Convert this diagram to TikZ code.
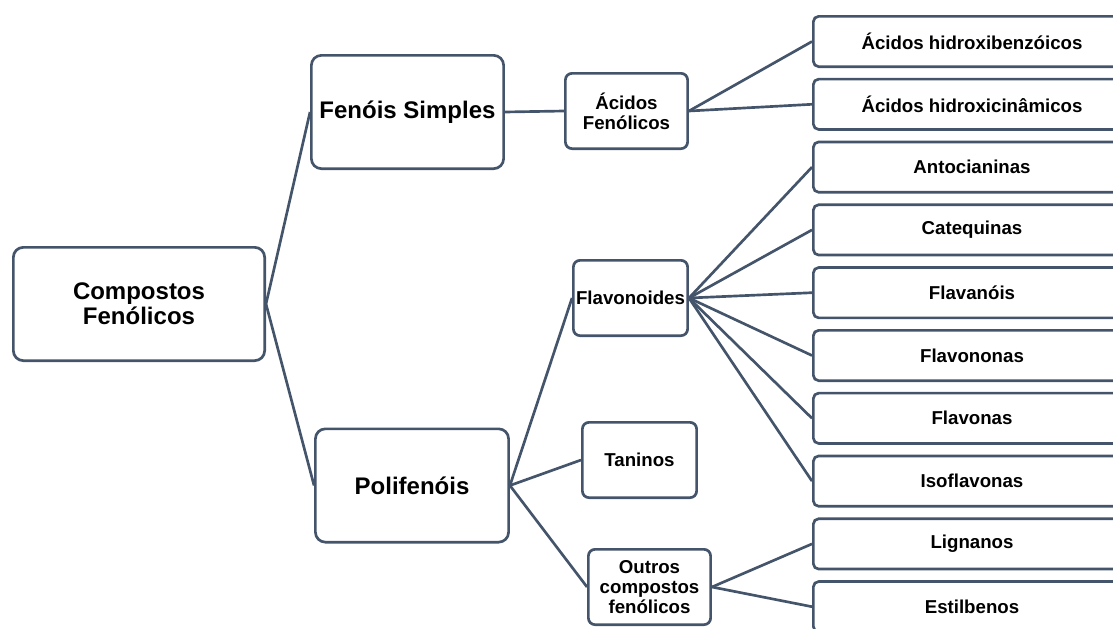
\documentclass[tikz,border=0pt]{standalone}
\usepackage{fontspec}
\setmainfont{Liberation Sans}
\definecolor{fsline}{HTML}{44546A}
\usetikzlibrary{positioning}

\begin{document}
\begin{tikzpicture}[
      x=0.75pt, y=-0.75pt,
      box/.style={draw=fsline, fill=white, line width=2pt, align=center,
                  inner sep=2pt, text=black},
      big/.style={box, rounded corners=7.5pt, minimum height=85pt,
                  font=\fontsize{18}{19}\selectfont\bfseries},
      mid/.style={box, rounded corners=5pt, minimum width=91.7pt,
                  minimum height=56.5pt, font=\fontsize{14}{15}\selectfont\bfseries},
      leaf/.style={box, rounded corners=4pt, minimum width=238pt,
                   minimum height=37.75pt, font=\fontsize{14}{15}\selectfont\bfseries},
      ln/.style={draw=fsline, line width=2pt},
    ]
    \clip (0,0) rectangle (1113,628);

    % ---------- root and first level ----------
    \node[big, minimum width=188.5pt] (comp) at (139,304) {Compostos\\Fenólicos};
    \node[big, minimum width=144.2pt] (simp) at (407.5,112) {Fenóis Simples};
    \node[big, minimum width=144.9pt] (poli) at (412,485.5) {Polifenóis};

    % ---------- second level ----------
    \node[mid] (acid) at (626.5,111) {Ácidos\\Fenólicos};
    \node[mid, minimum width=85.7pt] (flav) at (630.5,298) {Flavonoides};
    \node[mid, minimum width=85.7pt] (tan) at (639.5,460) {Taninos};
    \node[mid] (outr) at (649.5,587) {Outros\\compostos\\fenólicos};

    % ---------- leaves ----------
    \node[leaf] (hbenz) at (972,41.5) {Ácidos hidroxibenzóicos};
    \node[leaf, below=7.35pt of hbenz] (hcin) {Ácidos hidroxicinâmicos};
    \node[leaf, below=7.35pt of hcin] (anto) {Antocianinas};
    \node[leaf, below=7.35pt of anto] (cateq) {Catequinas};
    \node[leaf, below=7.35pt of cateq] (flavol) {Flavanóis};
    \node[leaf, below=7.35pt of flavol] (flavon) {Flavononas};
    \node[leaf, below=7.35pt of flavon] (flavona) {Flavonas};
    \node[leaf, below=7.35pt of flavona] (isofl) {Isoflavonas};
    \node[leaf, below=7.35pt of isofl] (lign) {Lignanos};
    \node[leaf, below=7.35pt of lign] (estil) {Estilbenos};

    % ---------- connectors ----------
    \draw[ln] (comp.east) -- (simp.west);
    \draw[ln] (comp.east) -- (poli.west);
    \draw[ln] (simp.east) -- (acid.west);
    \draw[ln] (acid.east) -- (hbenz.west);
    \draw[ln] (acid.east) -- (hcin.west);
    \draw[ln] (poli.east) -- (flav.west);
    \draw[ln] (poli.east) -- (tan.west);
    \draw[ln] (poli.east) -- (outr.west);
    \draw[ln] (flav.east) -- (anto.west);
    \draw[ln] (flav.east) -- (cateq.west);
    \draw[ln] (flav.east) -- (flavol.west);
    \draw[ln] (flav.east) -- (flavon.west);
    \draw[ln] (flav.east) -- (flavona.west);
    \draw[ln] (flav.east) -- (isofl.west);
    \draw[ln] (outr.east) -- (lign.west);
    \draw[ln] (outr.east) -- (estil.west);

  \end{tikzpicture}
\end{document}
